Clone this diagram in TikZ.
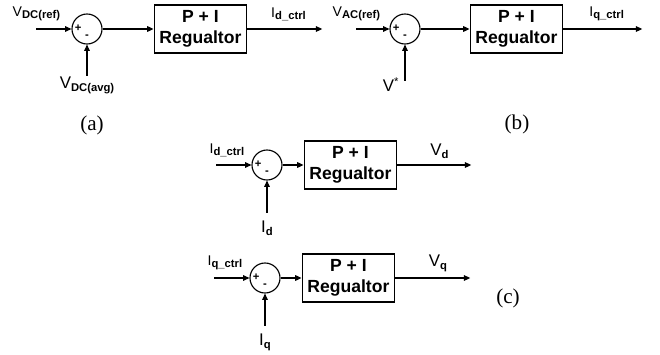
\documentclass[tikz,border=0pt]{standalone}
\usepackage{fontspec}
\setmainfont{Liberation Serif}
\setsansfont{Liberation Sans}
\usetikzlibrary{%
	calc,%
	arrows.meta,%
	positioning,%
}
\tikzset{
	>={Triangle[length=4.5pt,width=4pt]},%
	nodes={align=center},%
	sumnode/.style={%
			draw,%
			circle,%
			line width=0.8pt,%
			minimum size=0.75cm,%
			inner sep=0},%
	pibox/.style={%
			draw,%
			rectangle,%
			line width=1.2pt,%
			minimum width=2.3cm,%
			minimum height=1.2cm,%
			font={\sffamily\bfseries\fontsize{12.5}{15}\selectfont}},%
	sig/.style={%
			inner sep=0,%
			font={\sffamily\bfseries\fontsize{8}{8}\selectfont}},%
	lbl/.style={%
			inner sep=1pt,%
			font={\sffamily\fontsize{10}{12}\selectfont}},%
	biglbl/.style={%
			inner sep=1pt,%
			font={\sffamily\fontsize{12}{14}\selectfont}},%
	caplbl/.style={%
			font={\rmfamily\fontsize{15}{18}\selectfont}},%
	wire/.style={->, line width=0.8pt},%
}
\newcommand{\sublbl}[1]{\raisebox{-0.35ex}{\bfseries\fontsize{8}{8}\selectfont #1}}

\begin{document}
\begin{tikzpicture}
	\useasboundingbox (0,0) rectangle (16.5,8.85);

	\node[sumnode] (suma) at (2.175,8.125) {};
	\node[sig] (pa) at ($(suma.center)+(-0.22,0.02)$) {+};
	\node[sig] (ma) at ($(suma.center)+(0,-0.2)$) {-};
	\coordinate[left=0.875cm of suma] (ina);
	\coordinate[below=0.775cm of suma] (avga);
	\node[pibox] (boxa) [right=1.275cm of suma] {P + I\\Regualtor};
	\coordinate[right=1.875cm of boxa] (outa);
	\node[lbl] (refa) [above=0.15cm of ina] {V\sublbl{DC(ref)}};
	\node[biglbl] (avgl) [below=0cm of avga] {V\sublbl{DC(avg)}};
	\node[lbl] (ida) [above=0.15cm of $(boxa.east)!0.55!(outa)$] {I\sublbl{d\_ctrl}};

	\node[sumnode] (sumb) at (10.125,8.125) {};
	\node[sig] (pb) at ($(sumb.center)+(-0.22,0.02)$) {+};
	\node[sig] (mb) at ($(sumb.center)+(0,-0.2)$) {-};
	\coordinate[left=0.825cm of sumb] (inb);
	\coordinate[below=0.9cm of sumb] (vsb);
	\node[pibox] (boxb) [right=1.225cm of sumb] {P + I\\Regualtor};
	\coordinate[right=1.975cm of boxb] (outb);
	\node[lbl] (refb) [above=0.15cm of inb] {V\sublbl{AC(ref)}};
	\node[biglbl] (vstar) [below left=-0.12cm and 0.1cm of vsb] {V\textsuperscript{*}};
	\node[lbl] (iqb) [above=0.15cm of $(boxb.east)!0.55!(outb)$] {I\sublbl{q\_ctrl}};

	\node[sumnode] (sumc) at (6.675,4.725) {};
	\node[sig] (pc) at ($(sumc.center)+(-0.22,0.02)$) {+};
	\node[sig] (mc) at ($(sumc.center)+(0,-0.2)$) {-};
	\coordinate[left=0.875cm of sumc] (inc);
	\coordinate[below=0.8cm of sumc] (idc);
	\node[pibox] (boxc) [right=0.525cm of sumc] {P + I\\Regualtor};
	\coordinate[right=1.85cm of boxc] (outc);
	\node[lbl] (idctrl) [above=0.15cm of $(inc)!0.3!(sumc.west)$] {I\sublbl{d\_ctrl}};
	\node[biglbl] (idl) [below=0.17cm of idc] {I\sublbl{d}};
	\node[biglbl] (vdl) [above=0.12cm of $(boxc.east)!0.57!(outc)$] {V\sublbl{d}};

	\node[sumnode] (sumd) at (6.625,1.9) {};
	\node[sig] (pd) at ($(sumd.center)+(-0.22,0.02)$) {+};
	\node[sig] (md) at ($(sumd.center)+(0,-0.2)$) {-};
	\coordinate[left=0.875cm of sumd] (ind);
	\coordinate[below=0.8cm of sumd] (iqd);
	\node[pibox] (boxd) [right=0.525cm of sumd] {P + I\\Regualtor};
	\coordinate[right=1.875cm of boxd] (outd);
	\node[lbl] (iqctrl) [above=0.15cm of $(ind)!0.3!(sumd.west)$] {I\sublbl{q\_ctrl}};
	\node[biglbl] (iql) [below=0.17cm of iqd] {I\sublbl{q}};
	\node[biglbl] (vql) [above=0.12cm of $(boxd.east)!0.57!(outd)$] {V\sublbl{q}};

	\node[caplbl] (capa) at (2.3,5.725) {(a)};
	\node[caplbl] (capb) at (12.925,5.75) {(b)};
	\node[caplbl] (capc) at (12.7,1.4) {(c)};

	\draw[wire] (ina) to (suma);
	\draw[wire] (avga) to (suma);
	\draw[wire] (suma) to (boxa);
	\draw[wire] (boxa) to (outa);
	\draw[wire] (inb) to (sumb);
	\draw[wire] (vsb) to (sumb);
	\draw[wire] (sumb) to (boxb);
	\draw[wire] (boxb) to (outb);
	\draw[wire] (inc) to (sumc);
	\draw[wire] (idc) to (sumc);
	\draw[wire] (sumc) to (boxc);
	\draw[wire] (boxc) to (outc);
	\draw[wire] (ind) to (sumd);
	\draw[wire] (iqd) to (sumd);
	\draw[wire] (sumd) to (boxd);
	\draw[wire] (boxd) to (outd);
\end{tikzpicture}
\end{document}
